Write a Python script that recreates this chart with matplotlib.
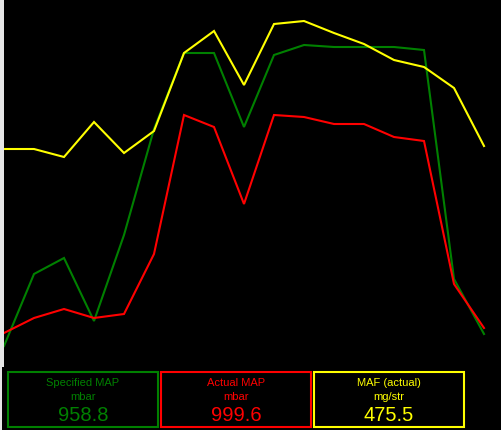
import numpy as np
import matplotlib
matplotlib.use("Agg")
import matplotlib.pyplot as plt
from matplotlib.patches import Rectangle

plt.rcParams['font.family'] = ['Liberation Sans', 'DejaVu Sans']

# trace heights (0 = bottom of the plot strip, 360 = top), one sample per step
samples = np.arange(17)
specified_map = [13, 85, 101, 38, 124, 230, 306, 306, 232, 304, 314, 312, 312, 312, 309, 80, 25]
actual_map = [26, 41, 50, 41, 45, 105, 244, 232, 155, 244, 242, 235, 235, 222, 218, 75, 31]
maf_actual = [210, 210, 202, 237, 206, 228, 306, 328, 274, 335, 338, 326, 315, 299, 292, 271, 213]

labels = ["Specified MAP", "Actual MAP", "MAF (actual)"]
units = ["mbar", "mbar", "mg/str"]
readings = ["958.8", "999.6", "475.5"]
colors = ["#008000", "#ff0000", "#ffff00"]

W, H = 501, 431
fig = plt.figure(figsize=(W / 100, H / 100), dpi=100, facecolor="black")

# thin light strip on the left edge
fig.patches.append(Rectangle((0, (H - 368) / H), 4 / W, 368 / H, transform=fig.transFigure,
                             facecolor="#e6e6e6", edgecolor="none"))
fig.patches.append(Rectangle((0, 0), 2 / W, 1, transform=fig.transFigure,
                             facecolor="#e6e6e6", edgecolor="none"))

ax = fig.add_axes([4 / W, (H - 360) / H, 480 / W, 360 / H])
ax.set_facecolor("black")
for series, c in zip([specified_map, actual_map, maf_actual], colors):
    ax.plot(samples, series, color=c, lw=1.5, clip_on=False, solid_joinstyle="miter")
ax.set_xlim(0, 16)
ax.set_ylim(0, 360)
ax.axis("off")

# readout boxes
box_left = [8, 161, 314]
for x0, lab, unit, val, c in zip(box_left, labels, units, readings, colors):
    fig.patches.append(Rectangle((x0 / W, (H - 428) / H), 150 / W, 55 / H, transform=fig.transFigure,
                                 facecolor="black", edgecolor=c, lw=1.5))
    cx = (x0 + 75) / W
    fig.text(cx, (H - 383) / H, lab, color=c, ha="center", va="center", fontsize=8)
    fig.text(cx, (H - 397) / H, unit, color=c, ha="center", va="center", fontsize=8)
    fig.text(cx, (H - 416) / H, val, color=c, ha="center", va="center", fontsize=14.5)

fig.savefig("out.png", dpi=100, facecolor="black")
